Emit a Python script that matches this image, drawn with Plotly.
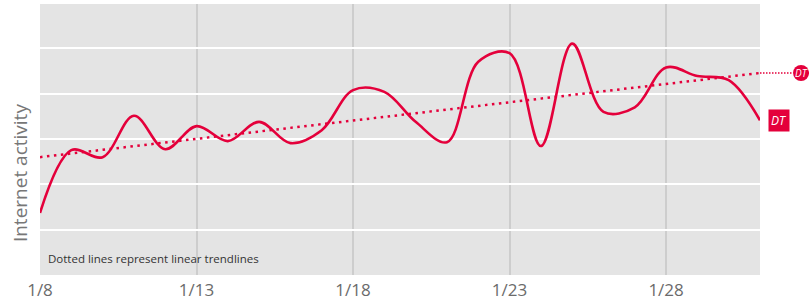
import numpy as np
import plotly.graph_objects as go

dates = ["2021-01-%02d" % d for d in range(8, 32)]
activity = [27.4, 55.1, 52.0, 70.3, 55.5, 65.7, 59.1, 67.6, 58.2, 63.9, 81.6, 80.8,
            67.6, 58.6, 94.1, 97.9, 56.9, 102.1, 72.0, 74.0, 91.6, 87.8, 86.0, 68.3]
series_name = "DT"
tick_dates = ["2021-01-08", "2021-01-13", "2021-01-18", "2021-01-23", "2021-01-28"]
tick_labels = ["1/8", "1/13", "1/18", "1/23", "1/28"]
y_grid = [20, 40, 60, 80, 100]
Y_MAX = 119.6

RED = "#e4003b"
idx = np.arange(len(activity))
slope, intercept = np.polyfit(idx, activity, 1)
trend = list(intercept + slope * idx)
trend_end_paper = trend[-1] / Y_MAX

fig = go.Figure()
fig.add_trace(go.Scatter(x=[dates[0], dates[-1]], y=[trend[0], trend[-1]], mode="lines",
                         line=dict(color=RED, width=2.5, dash="2.5px,4.5px"),
                         hoverinfo="skip", showlegend=False))
fig.add_trace(go.Scatter(x=dates, y=activity, mode="lines",
                         line=dict(color=RED, width=2.6, shape="spline", smoothing=1.0),
                         showlegend=False))

# trend extension to round label
fig.add_shape(type="line", xref="paper", yref="paper", x0=1.0, x1=1.046,
              y0=trend_end_paper, y1=trend_end_paper,
              line=dict(color=RED, width=1.5, dash="1.5px,1.5px"))
fig.add_shape(type="circle", xref="paper", yref="paper", xsizemode="pixel", ysizemode="pixel",
              xanchor=1.057, yanchor=trend_end_paper, x0=-8, x1=8, y0=-8, y1=8,
              fillcolor=RED, line=dict(width=0))
fig.add_annotation(xref="paper", yref="paper", x=1.057, y=trend_end_paper, text="<i>DT</i>",
                   showarrow=False, font=dict(color="white", size=10, family="Open Sans"),
                   xanchor="center", yanchor="middle")
# end-of-line label
fig.add_annotation(x=dates[-1], y=activity[-1], text="<i>" + series_name + "</i>",
                   showarrow=False, xanchor="left", yanchor="middle", xshift=8,
                   bgcolor=RED, borderpad=2,
                   font=dict(color="white", size=12, family="Open Sans"))
fig.add_annotation(xref="paper", yref="paper", x=0.008, y=0.06,
                   text="Dotted lines represent linear trendlines", showarrow=False,
                   xanchor="left", yanchor="middle",
                   font=dict(color="#333333", size=11.5, family="Open Sans"))
# y-axis title
fig.add_annotation(xref="paper", yref="paper", x=0, y=0.376, xshift=-20,
                   text="Internet activity", textangle=-90, showarrow=False,
                   xanchor="center", yanchor="middle",
                   font=dict(color="#777777", size=19, family="Open Sans"))

fig.update_layout(
    width=809, height=303,
    margin=dict(l=40, r=49, t=4, b=28),
    paper_bgcolor="white", plot_bgcolor="#e4e4e4",
    font=dict(family="Open Sans", color="#6b6b6b"),
    xaxis=dict(type="date", range=[dates[0], dates[-1]], tickvals=tick_dates,
               ticktext=tick_labels, showgrid=True, gridcolor="#cdcdcd", gridwidth=2,
               zeroline=False, showline=False, ticks="", automargin=False,
               ticklabelstandoff=3,
               tickfont=dict(size=17, color="#6b6b6b")),
    yaxis=dict(range=[0, Y_MAX], tickvals=y_grid, showticklabels=False, showgrid=True,
               gridcolor="white", gridwidth=2, zeroline=False, showline=False,
               automargin=False),
)
fig.write_html("out.html", config={"displayModeBar": False},
               post_script="document.body.style.margin='0';document.body.style.overflow='hidden';")
